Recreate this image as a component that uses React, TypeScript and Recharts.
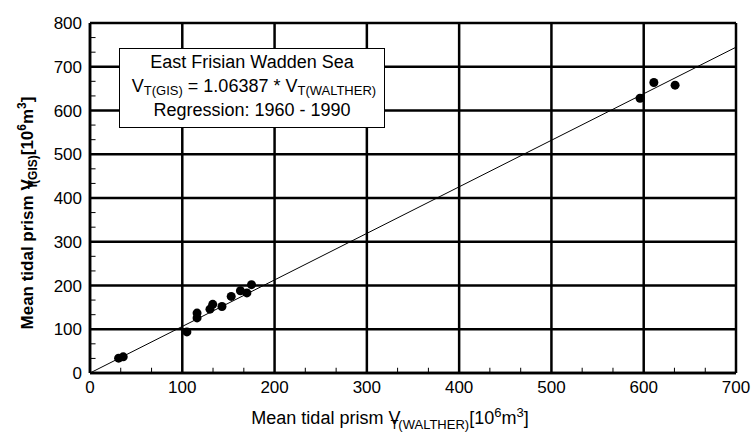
import React from 'react';
import {
  ScatterChart,
  Scatter,
  XAxis,
  YAxis,
  CartesianGrid,
  ReferenceLine,
} from 'recharts';

// Mean tidal prism [10^6 m^3], Walther (x) vs GIS (y)
const walther = [31, 36, 105, 116, 116, 130, 133, 143, 153, 163, 170, 175, 596, 611, 634];
const gis = [34, 37, 94, 126, 137, 146, 157, 152, 175, 188, 183, 202, 628, 664, 658];

const xTicks = [0, 100, 200, 300, 400, 500, 600, 700];
const yTicks = [0, 100, 200, 300, 400, 500, 600, 700, 800];
const xMinor = [33.3, 66.7, 133.3, 166.7, 233.3, 266.7, 333.3, 366.7, 433.3, 466.7, 533.3, 566.7, 633.3, 666.7];
const yMinor = [33.3, 66.7, 133.3, 166.7, 233.3, 266.7, 333.3, 366.7, 433.3, 466.7, 533.3, 566.7, 633.3, 666.7, 733.3, 766.7];

const SLOPE = 1.06387;

const points = walther.map((x, i) => ({ x, y: gis[i] }));

const FONT = '"Liberation Sans", Arial, sans-serif';

const Dot = (props: any) => <circle cx={props.cx} cy={props.cy} r={4.5} fill="#000" />;

export default function App() {
  return (
    <div style={{ position: 'absolute', left: 0, top: 0, width: 751, height: 439, background: '#fff', fontFamily: FONT }}>
      <ScatterChart width={751} height={439} margin={{ top: 23, right: 15, bottom: 0, left: 30 }}>
        <CartesianGrid stroke="#000" strokeWidth={2.5} />
        <XAxis
          type="number"
          dataKey="x"
          domain={[0, 700]}
          ticks={xTicks}
          height={66}
          tickLine={false}
          axisLine={{ stroke: '#000', strokeWidth: 2.5 }}
          tick={{ fill: '#000', fontSize: 17, fontFamily: FONT }}
        />
        <YAxis
          type="number"
          dataKey="y"
          domain={[0, 800]}
          ticks={yTicks}
          width={60}
          tickLine={false}
          axisLine={{ stroke: '#000', strokeWidth: 2.5 }}
          tick={{ fill: '#000', fontSize: 17, fontFamily: FONT }}
        />
        {/* small inner minor ticks on the bottom and left axes */}
        {xMinor.map((v) => (
          <ReferenceLine key={'mx' + v} segment={[{ x: v, y: 0 }, { x: v, y: 12 }]} stroke="#000" strokeWidth={1} />
        ))}
        {yMinor.map((v) => (
          <ReferenceLine key={'my' + v} segment={[{ x: 0, y: v }, { x: 6, y: v }]} stroke="#000" strokeWidth={1} />
        ))}
        <ReferenceLine
          segment={[{ x: 0, y: 0 }, { x: 700, y: 700 * SLOPE }]}
          stroke="#000"
          strokeWidth={1}
        />
        <Scatter data={points} shape={Dot} isAnimationActive={false} />
      </ScatterChart>
      <svg width={751} height={439} style={{ position: 'absolute', left: 0, top: 0, pointerEvents: 'none' }}>
        <rect x={119.5} y={48.5} width={265} height={79} fill="#fff" stroke="#000" strokeWidth={1} />
        <text x={252} y={68} textAnchor="middle" fontSize={18} fontFamily={FONT} fill="#000">
          East Frisian Wadden Sea
        </text>
        <text x={254} y={92} textAnchor="middle" fontSize={18} fontFamily={FONT} fill="#000">
          V<tspan dy={3} fontSize={13}>T(GIS)</tspan>
          <tspan dy={-3}> = 1.06387 * V</tspan>
          <tspan dy={3} fontSize={13}>T(WALTHER)</tspan>
        </text>
        <text x={252} y={116} textAnchor="middle" fontSize={18} fontFamily={FONT} fill="#000">
          Regression: 1960 - 1990
        </text>
        <text x={390} y={424} textAnchor="middle" fontSize={18} fontFamily={FONT} fill="#000">
          Mean tidal prism V
          <tspan dx={-10} dy={5} fontSize={13}>T(WALTHER)</tspan>
          <tspan dy={-5}>[10</tspan>
          <tspan dy={-7} fontSize={13}>6</tspan>
          <tspan dy={7}>m</tspan>
          <tspan dy={-7} fontSize={13}>3</tspan>
          <tspan dy={7}>]</tspan>
        </text>
        <text
          transform="translate(33,213) rotate(-90)"
          textAnchor="middle"
          fontSize={17}
          fontWeight="bold"
          fontFamily={FONT}
          fill="#000"
        >
          Mean tidal prism V
          <tspan dx={-10} dy={4} fontSize={12}>T</tspan>
          <tspan dx={-2} fontSize={12}>(GIS)</tspan>
          <tspan dy={-4}>[10</tspan>
          <tspan dy={-7} fontSize={12}>6</tspan>
          <tspan dy={7}>m</tspan>
          <tspan dy={-7} fontSize={12}>3</tspan>
          <tspan dy={7}>]</tspan>
        </text>
      </svg>
    </div>
  );
}
